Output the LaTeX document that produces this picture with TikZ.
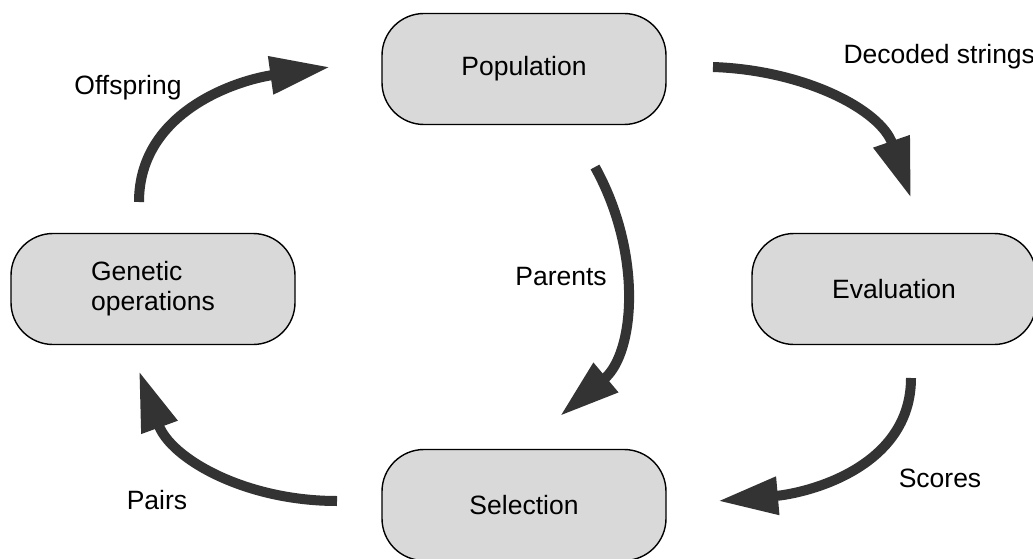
\documentclass[tikz,border=0pt]{standalone}
\usepackage{fontspec}
\setmainfont{Liberation Sans}
\usetikzlibrary{shapes, arrows.meta}
\tikzstyle{stage} = [rectangle, rounded corners=42pt, minimum width=284pt, minimum height=111pt, text centered, draw=black, line width=1.4pt, fill=black!15]
\tikzstyle{flow} = [line width=10pt, -{Triangle[length=60pt,width=36pt]}, draw=black!80]

\begin{document}
\begin{tikzpicture}[x=1pt, y=1pt, font=\fontsize{26.5}{30}\selectfont]
\useasboundingbox (0,0) rectangle (1033,558);

% the four stages
\node[stage] (pop) at (524,489) {Population};
\node[stage] (eval) at (894,269) {Evaluation};
\node[stage] (sel) at (524,53) {Selection};
\node[stage, align=left] (gen) at (153,269) {Genetic\\operations};

% arrow ends
\coordinate (offA) at (139,356);
\coordinate (offB) at (330,491);
\coordinate (decA) at (713,491);
\coordinate (decB) at (911,360);
\coordinate (parA) at (595,391);
\coordinate (parB) at (560,142);
\coordinate (scoA) at (911,180);
\coordinate (scoB) at (718,57);
\coordinate (pairA) at (337,57);
\coordinate (pairB) at (139,187);

\draw[flow] (offA) to[out=90, in=188] (offB);
\draw[flow] (decA) to[out=-2, in=109] (decB);
\draw[flow] (parA) to[out=-61, in=40] (parB);
\draw[flow] (scoA) to[out=-90, in=5] (scoB);
\draw[flow] (pairA) to[out=180, in=290] (pairB);

% labels
\node (offL) at (128,470) {Offspring};
\node[anchor=west] (decL) at (840,501) {Decoded strings};
\node (parL) at (561,281) {Parents};
\node (scoL) at (940,80) {Scores};
\node (pairL) at (157,58) {Pairs};
\end{tikzpicture}
\end{document}
